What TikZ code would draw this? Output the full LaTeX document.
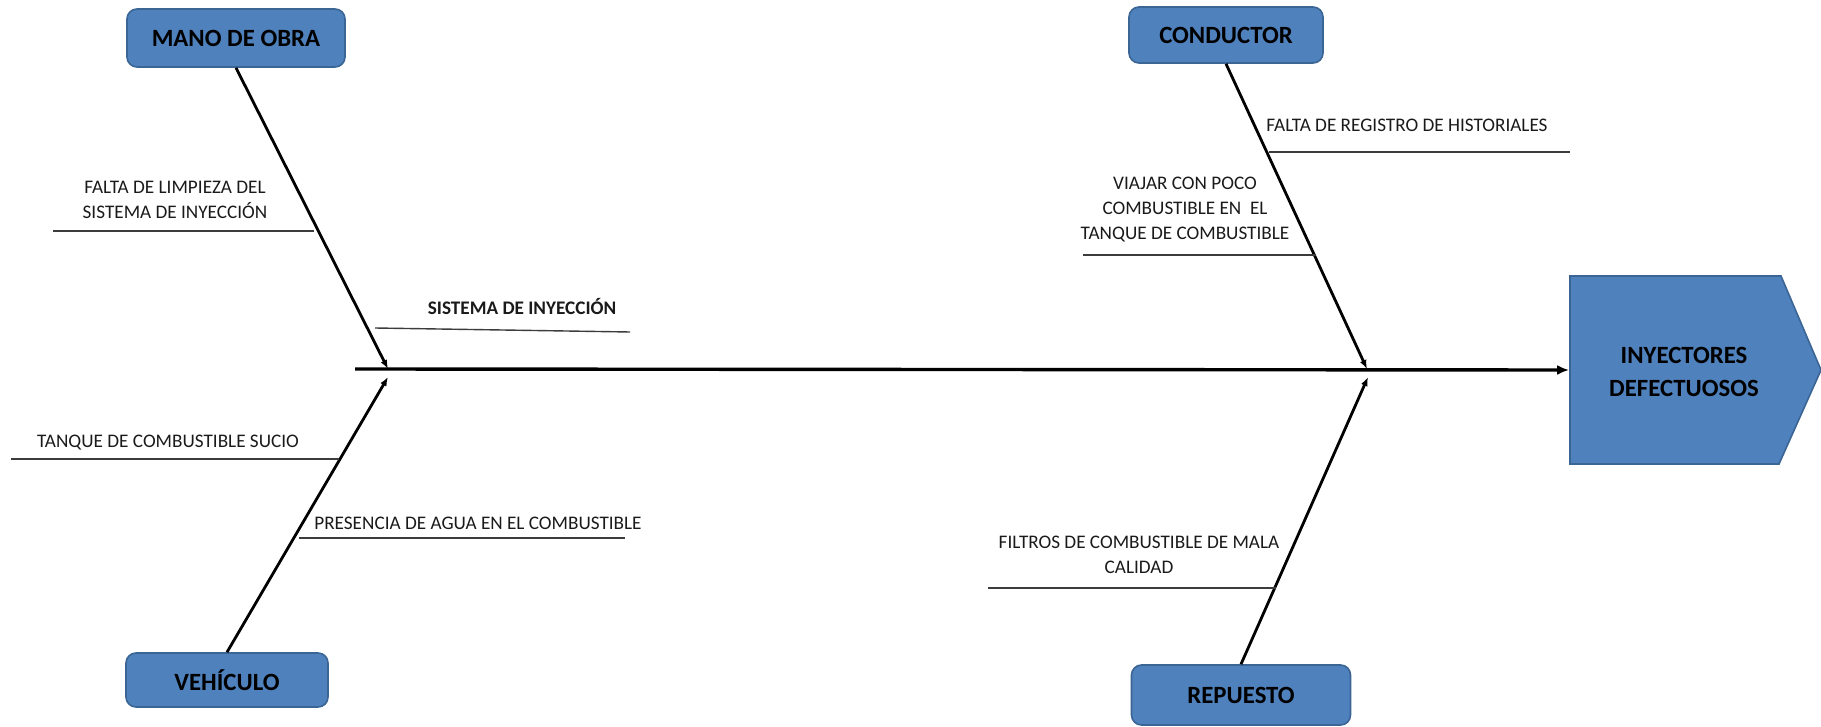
\documentclass[tikz,border=0pt]{standalone}
\usepackage{fontspec}
\setmainfont{Carlito}
\usetikzlibrary{arrows.meta}
\definecolor{boxblue}{HTML}{4F81BD}
\definecolor{boxedge}{HTML}{3B6594}
\definecolor{ink}{HTML}{1A1A1A}
\begin{document}
\begin{tikzpicture}[x=0.5pt,y=-0.5pt,
  category/.style={rectangle, rounded corners=5pt, fill=boxblue, draw=boxedge,
    line width=0.8pt, font=\bfseries\fontsize{12.4}{15}\selectfont, text=black},
  cause/.style={font=\fontsize{9.6}{12.8}\selectfont, align=center, text=ink, inner sep=0pt},
  bone/.style={line width=1.4pt, -{Latex[length=4.5pt,width=3.5pt]}},
  twig/.style={line width=0.7pt, draw=ink!85},
]
\useasboundingbox (0,0) rectangle (1821,727);

% category boxes
\node[category, minimum width=109pt, minimum height=29pt] (mano) at (236,38) {MANO DE OBRA};
\node[category, minimum width=97pt, minimum height=28pt] (cond) at (1226,35) {CONDUCTOR};
\node[category, minimum width=101pt, minimum height=27pt] (veh) at (227,680) {VEHÍCULO};
\node[category, minimum width=109.5pt, minimum height=30pt] (rep) at (1241,695) {REPUESTO};

% effect (head of the fish)
\fill[boxblue, draw=boxedge, line width=0.8pt]
  (1570,276) -- (1781,276) -- (1821,370) -- (1779,464) -- (1570,464) -- cycle;
\node[minimum width=105.5pt, minimum height=94pt, inner sep=0pt] (eff) at (1675,370) {};
\node[font=\bfseries\fontsize{12.4}{16.5}\selectfont, align=center] (efftxt) at (1684,372)
  {INYECTORES\\DEFECTUOSOS};

% spine and main bones
\coordinate (tail) at (355,369);
\coordinate (j1) at (388,369);
\coordinate (j2) at (388,377);
\coordinate (j3) at (1367,369);
\coordinate (j4) at (1368,377);
\draw[line width=1.7pt, -{Latex[length=6pt,width=5pt]}] (tail) -- (eff.west);
\draw[bone] (mano.south) -- (j1);
\draw[bone] (veh.north) -- (j2);
\draw[bone] (cond.south) -- (j3);
\draw[bone] (rep.north) -- (j4);

% sub-cause lines
\draw[twig] (53,231) -- (314,231);
\draw[twig] (375,328) -- (630,332);
\draw[twig] (11,459) -- (339,459);
\draw[twig] (299,538) -- (625,538);
\draw[twig] (1269,152) -- (1570,152);
\draw[twig] (1083,255) -- (1316,255);
\draw[twig] (988,588) -- (1276,588);

% sub-cause labels
\node[cause] (c1) at (175,200) {FALTA DE LIMPIEZA DEL\\SISTEMA DE INYECCIÓN};
\node[cause, font=\bfseries\fontsize{9.6}{12}\selectfont] (c2) at (522,307) {SISTEMA DE INYECCIÓN};
\node[cause] (c3) at (168,443) {TANQUE DE COMBUSTIBLE SUCIO};
\node[cause] (c4) at (478,523) {PRESENCIA DE AGUA EN EL COMBUSTIBLE};
\node[cause] (c5) at (1407,125) {FALTA DE REGISTRO DE HISTORIALES};
\node[cause, font=\fontsize{9.6}{12.5}\selectfont] (c6) at (1185,210)
  {VIAJAR CON POCO\\COMBUSTIBLE EN\ \ EL\\TANQUE DE COMBUSTIBLE};
\node[cause] (c7) at (1139,555) {FILTROS DE COMBUSTIBLE DE MALA\\CALIDAD};
\end{tikzpicture}
\end{document}
